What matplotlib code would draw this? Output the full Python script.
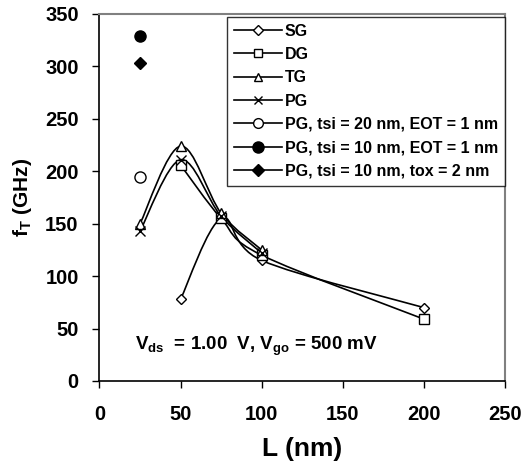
import numpy as np
import matplotlib
matplotlib.use("Agg")
import matplotlib.pyplot as plt
from matplotlib.path import Path
from matplotlib.patches import PathPatch
from matplotlib.lines import Line2D

plt.rcParams['font.family'] = 'Liberation Sans'
plt.rcParams['font.weight'] = 'bold'
plt.rcParams['mathtext.fontset'] = 'custom'
plt.rcParams['mathtext.rm'] = 'Liberation Sans:bold'
plt.rcParams['mathtext.it'] = 'Liberation Sans:bold'
plt.rcParams['mathtext.bf'] = 'Liberation Sans:bold'

# gate length (nm) and f_T (GHz)
sg_L = [50, 75, 100, 200]
sg_f = [78, 155, 115, 70]
dg_L = [50, 75, 100, 200]
dg_f = [206, 155, 120, 59]
tg_L = [25, 50, 75, 100]
tg_f = [150, 224, 160, 125]
pg_L = [25, 50, 75, 100]
pg_f = [143, 211, 157, 122]

# single points at L = 25 nm
pg_tsi20_f = 195
pg_tsi10_f = 329
pg_tox2_f = 303


def smooth_path(x, y):
    """Excel-style smoothed line: bezier segments through the data points"""
    x = np.asarray(x, float)
    y = np.asarray(y, float)
    n = len(x)
    verts = [(x[0], y[0])]
    codes = [Path.MOVETO]
    for i in range(n - 1):
        x0, y0 = (x[i - 1], y[i - 1]) if i > 0 else (x[i], y[i])
        x3, y3 = (x[i + 2], y[i + 2]) if i + 2 < n else (x[i + 1], y[i + 1])
        c1 = (x[i] + (x[i + 1] - x0) / 6, y[i] + (y[i + 1] - y0) / 6)
        c2 = (x[i + 1] - (x3 - x[i]) / 6, y[i + 1] - (y3 - y[i]) / 6)
        verts += [c1, c2, (x[i + 1], y[i + 1])]
        codes += [Path.CURVE4] * 3
    return Path(verts, codes)


fig = plt.figure(figsize=(5.28, 4.71), dpi=100)
ax = fig.add_axes([0.1884, 0.1911, 0.768, 0.7792])

series = [
    (sg_L, sg_f, 'D', 'white', 5.5, 'SG'),
    (dg_L, dg_f, 's', 'white', 6.5, 'DG'),
    (tg_L, tg_f, '^', 'white', 7, 'TG'),
    (pg_L, pg_f, 'x', 'black', 7, 'PG'),
]
handles = []
for L, f, m, fc, ms, lab in series:
    ax.add_patch(PathPatch(smooth_path(L, f), facecolor='none', edgecolor='black', lw=1.2, zorder=2))
    ax.plot(L, f, linestyle='none', marker=m, mfc=fc, mec='black', ms=ms, mew=1.0, zorder=3)
    handles.append(Line2D([], [], color='black', lw=1.2, marker=m, mfc=fc, mec='black', ms=ms * 0.9, mew=1.0))

ax.plot([25], [pg_tsi20_f], linestyle='none', marker='o', mfc='white', mec='black', ms=8, mew=1.0)
ax.plot([25], [pg_tsi10_f], linestyle='none', marker='o', color='black', ms=8)
ax.plot([25], [pg_tox2_f], linestyle='none', marker='D', color='black', ms=6.5)
handles.append(Line2D([], [], color='black', lw=1.2, marker='o', mfc='white', mec='black', ms=7))
handles.append(Line2D([], [], color='black', lw=1.2, marker='o', mfc='black', mec='black', ms=8))
handles.append(Line2D([], [], color='black', lw=1.2, marker='D', mfc='black', mec='black', ms=6))

labels = ['SG', 'DG', 'TG', 'PG',
          'PG, tsi = 20 nm, EOT = 1 nm',
          'PG, tsi = 10 nm, EOT = 1 nm',
          'PG, tsi = 10 nm, tox = 2 nm']
leg = ax.legend(handles, labels, loc='upper right', bbox_to_anchor=(1.0, 0.993),
                borderaxespad=0, prop={'size': 11.5, 'weight': 'bold'},
                handlelength=3.0, handletextpad=0.15, labelspacing=0.52,
                frameon=True, fancybox=False, borderpad=0.45)
leg.get_frame().set_edgecolor('black')
leg.get_frame().set_linewidth(1.0)

ax.text(22, 30, r'V$_{ds}$  = 1.00  V, V$_{go}$ = 500 mV', fontsize=13.5, fontweight='bold')

ax.set_xlim(0, 250)
ax.set_ylim(0, 350)
ax.set_xticks(np.arange(0, 251, 50))
ax.set_yticks(np.arange(0, 351, 50))
ax.tick_params(direction='out', length=5, width=1, labelsize=14.5)
ax.tick_params(axis='x', pad=12)
ax.tick_params(axis='y', pad=10)
for t in ax.get_xticklabels() + ax.get_yticklabels():
    t.set_fontweight('bold')
ax.spines['left'].set_linewidth(1.2)
ax.spines['bottom'].set_linewidth(1.2)
ax.spines['top'].set_color('#808080')
ax.spines['right'].set_color('#808080')
ax.spines['top'].set_linewidth(1.5)
ax.spines['right'].set_linewidth(1.5)

ax.set_xlabel('L (nm)', fontsize=19, fontweight='bold', labelpad=10)
ax.set_ylabel(r'f$_\mathrm{T}$ (GHz)', fontsize=15, fontweight='bold', labelpad=8)

fig.savefig('out.png', dpi=100)
